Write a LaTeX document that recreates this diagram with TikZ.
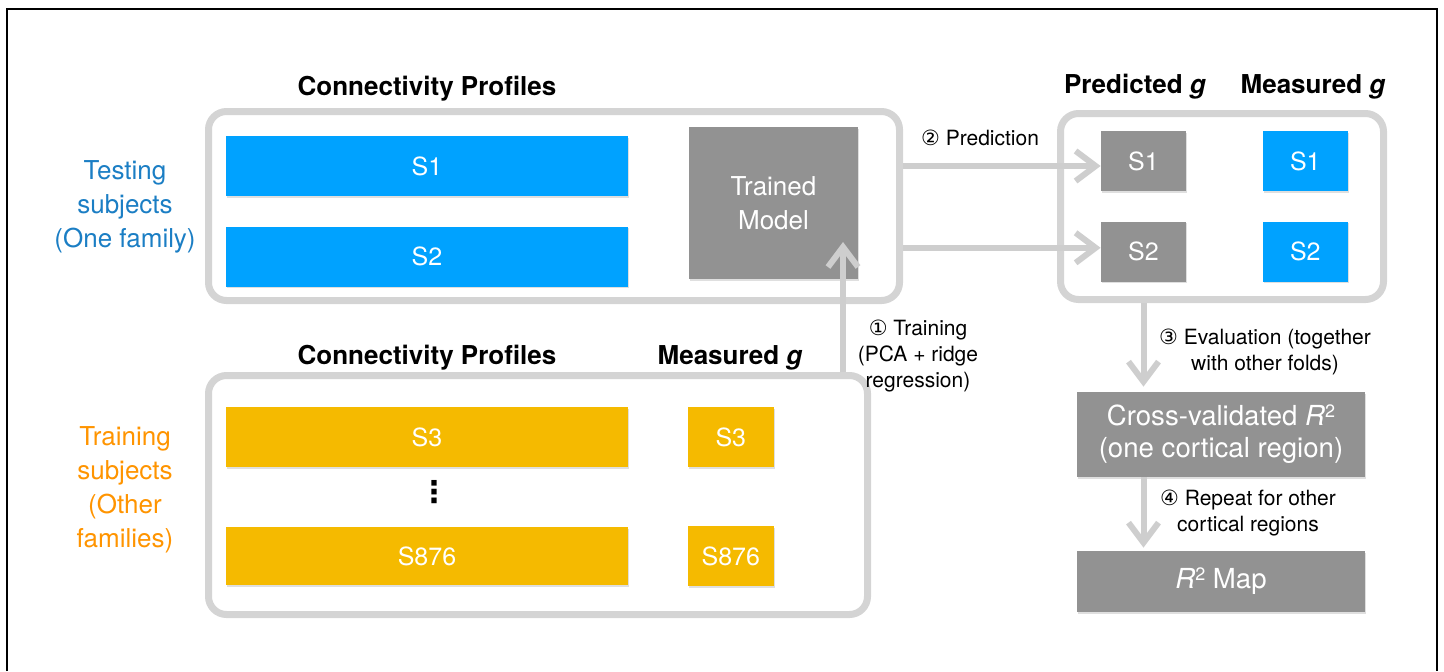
\documentclass[tikz,border=0pt]{standalone}
\usepackage{fontspec}
\setmainfont{TeX Gyre Heros}
\newfontfamily\circfont{DejaVu Sans}
\usetikzlibrary{arrows.meta,positioning,shadows}
\definecolor{skyblue}{RGB}{0,162,255}
\definecolor{gold}{RGB}{245,186,0}
\definecolor{slate}{RGB}{146,146,146}
\definecolor{rim}{RGB}{212,212,212}
\definecolor{flow}{RGB}{206,206,206}
\definecolor{testblue}{RGB}{27,126,196}
\definecolor{trainorange}{RGB}{255,148,0}
\newcommand{\rsq}{\textit{R}\raisebox{0.55ex}{\fontsize{9}{9}\selectfont 2}}

\begin{document}
\begin{tikzpicture}[x=0.5pt,y=-0.5pt,every node/.style={font=\fontsize{13}{17}\selectfont},
  panel/.style={draw=rim,line width=3.5pt,fill=white,rounded corners=9pt,inner sep=0pt,
    drop shadow={shadow xshift=0.8pt,shadow yshift=-1.2pt,opacity=0.18}},
  bar/.style={inner sep=0pt,text=white,font=\fontsize{12.5}{16}\selectfont,
    drop shadow={shadow xshift=0.6pt,shadow yshift=-0.8pt,opacity=0.25}},
  head/.style={anchor=base,font=\bfseries\fontsize{13}{16}\selectfont},
  note/.style={align=center,font=\fontsize{10.5}{13}\selectfont},
  arr/.style={draw=flow,line width=3pt,-{Straight Barb[length=10pt,width=15pt]}}]
\useasboundingbox (0,0) rectangle (1444,671);
\draw[line width=0.75pt] (7,671) -- (7,9) -- (1437,9) -- (1437,671);

\node[panel,minimum width=345.5pt,minimum height=94.5pt] (cpbox) at (554,206) {};
\node[bar,fill=skyblue,minimum width=201pt,minimum height=30pt] (s1) at (427,166) {S1};
\node[bar,fill=skyblue,minimum width=201pt,minimum height=30pt,below=15pt of s1] (s2) {S2};
\node[bar,fill=slate,minimum width=84.5pt,minimum height=76pt,align=center,font=\fontsize{13}{17}\selectfont] (model) at (773.5,203) {Trained\\Model};
\node[head] (cphead) at (427,95) {Connectivity Profiles};

\node[panel,minimum width=161.5pt,minimum height=93pt] (gbox) at (1222,206.5) {};
\node[bar,fill=slate,minimum width=42.5pt,minimum height=30pt] (p1) at (1143.5,161) {S1};
\node[bar,fill=slate,minimum width=42.5pt,minimum height=30pt,below=15pt of p1] (p2) {S2};
\node[bar,fill=skyblue,minimum width=42.5pt,minimum height=30pt,right=38pt of p1] (m1) {S1};
\node[bar,fill=skyblue,minimum width=42.5pt,minimum height=30pt,right=38pt of p2] (m2) {S2};
\node[head] (phead) at (1135,93) {Predicted \textit{g}};
\node[head] (mhead) at (1313,93) {Measured \textit{g}};

\node[panel,minimum width=329.5pt,minimum height=119.5pt] (trbox) at (538,495) {};
\node[bar,fill=gold,minimum width=201pt,minimum height=30pt] (t3) at (427,437) {S3};
\node[bar,fill=gold,minimum width=201pt,minimum height=29pt] (t876) at (427,556) {S876};
\node[bar,fill=gold,minimum width=43pt,minimum height=30pt,right=29.5pt of t3] (g3) {S3};
\node[bar,fill=gold,minimum width=43pt,minimum height=30pt,right=29.5pt of t876] (g876) {S876};
\node[font=\circfont\bfseries\fontsize{15}{15}\selectfont] (dots) at (434,492) {\char"22EE};
\node[head] (cphead2) at (427,364) {Connectivity Profiles};
\node[head] (mhead2) at (730,364) {Measured \textit{g}};

\node[align=center,text=testblue] (testlbl) at (125,207) {Testing\\subjects\\(One family)};
\node[align=center,text=trainorange] (trainlbl) at (125,490) {Training\\subjects\\(Other\\families)};

\node[bar,fill=slate,minimum width=144pt,minimum height=42.5pt,align=center,font=\fontsize{13.8}{16}\selectfont] (cv) at (1221,434.5) {Cross-validated \rsq\\(one cortical region)};
\node[bar,fill=slate,minimum width=144pt,minimum height=30.5pt,font=\fontsize{13.8}{16}\selectfont] (map) at (1221,581.5) {\rsq{} Map};

\coordinate (tip) at (843,242);
\draw[arr] (trbox.north -| tip) -- (tip);
\draw[arr] (cpbox.east |- s1) -- (p1.west |- s1);
\draw[arr] ([yshift=2pt]cpbox.east |- p2) -- ([yshift=2pt]p2.west);
\draw[arr,shorten >=2.5pt] (gbox.south -| p1) -- (cv.north -| p1);
\draw[arr,shorten >=1.5pt] (cv.south -| p1) -- (map.north -| p1);

\node[note,anchor=base] (predlbl) at (980,145) {{\circfont\char"2461} Prediction};
\node[note] (trainnote) at (918,356) {{\circfont\char"2460} Training\\(PCA + ridge\\regression)};
\node[note] (evalnote) at (1265,352) {{\circfont\char"2462} Evaluation (together\\with other folds)};
\node[note] (repnote) at (1248,513) {{\circfont\char"2463} Repeat for other\\cortical regions};
\end{tikzpicture}
\end{document}
